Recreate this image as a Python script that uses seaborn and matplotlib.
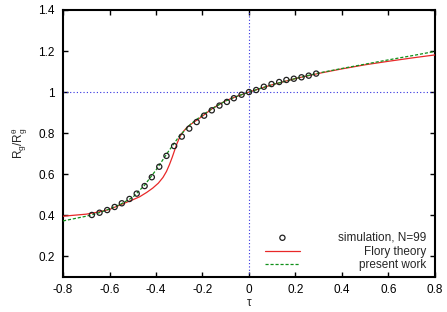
import numpy as np
import pandas as pd
import matplotlib
matplotlib.use('Agg')
import matplotlib.pyplot as plt
import seaborn as sns

# simulation points (N=99)
sim_tau = [-0.676, -0.643, -0.610, -0.578, -0.547, -0.514, -0.483, -0.449, -0.418, -0.386,
           -0.355, -0.322, -0.289, -0.257, -0.225, -0.193, -0.160, -0.127, -0.095, -0.065,
           -0.032, 0.000, 0.031, 0.064, 0.097, 0.130, 0.161, 0.193, 0.226, 0.257, 0.289]
sim_ratio = [0.401, 0.412, 0.425, 0.440, 0.458, 0.479, 0.505, 0.542, 0.585, 0.636,
             0.689, 0.737, 0.783, 0.822, 0.854, 0.885, 0.911, 0.934, 0.952, 0.970,
             0.987, 1.000, 1.010, 1.026, 1.039, 1.049, 1.059, 1.065, 1.072, 1.080, 1.090]

# Flory theory
flory_tau = [-0.8, -0.7, -0.65, -0.6, -0.55, -0.5, -0.47, -0.44, -0.414, -0.39, -0.37, -0.355,
             -0.342, -0.33, -0.32, -0.31, -0.30, -0.29, -0.28, -0.27, -0.25, -0.213, -0.156,
             -0.1, -0.05, 0.0, 0.1, 0.2, 0.3, 0.4, 0.5, 0.6, 0.7, 0.8]
flory_ratio = [0.395, 0.405, 0.415, 0.428, 0.452, 0.475, 0.490, 0.511, 0.532, 0.556, 0.584, 0.613,
               0.647, 0.683, 0.716, 0.748, 0.775, 0.796, 0.811, 0.824, 0.843, 0.872, 0.921,
               0.958, 0.980, 1.000, 1.036, 1.066, 1.091, 1.113, 1.133, 1.150, 1.166, 1.181]

# present work
pw_tau = [-0.8, -0.7, -0.65, -0.6, -0.55, -0.5, -0.45, -0.4, -0.35, -0.3, -0.25, -0.2,
          -0.15, -0.1, -0.05, 0.0, 0.1, 0.2, 0.3, 0.4, 0.5, 0.6, 0.7, 0.8]
pw_ratio = [0.372, 0.395, 0.410, 0.430, 0.455, 0.487, 0.545, 0.620, 0.705, 0.785, 0.845, 0.888,
            0.925, 0.957, 0.980, 1.000, 1.036, 1.066, 1.093, 1.115, 1.136, 1.157, 1.177, 1.198]

sns.set_style('ticks')
plt.rcParams['font.family'] = ['Liberation Sans', 'DejaVu Sans']
plt.rcParams['mathtext.fontset'] = 'custom'
plt.rcParams['mathtext.rm'] = 'Liberation Sans'
plt.rcParams['mathtext.it'] = 'Liberation Sans'

fig = plt.figure(figsize=(4.47, 3.12), dpi=100)
ax = fig.add_axes([0.141, 0.113, 0.832, 0.855])

hl = ax.axhline(1.0, color='#3030e0', ls=(0, (1, 2)), lw=0.8, zorder=1)
vl = ax.axvline(0.0, color='#3030e0', ls=(0, (1, 2)), lw=0.8, zorder=1)
hl.set_snap(True)
vl.set_snap(True)

sim = pd.DataFrame({'tau': sim_tau, 'ratio': sim_ratio})
flory = pd.DataFrame({'tau': flory_tau, 'ratio': flory_ratio})
pw = pd.DataFrame({'tau': pw_tau, 'ratio': pw_ratio})

sns.scatterplot(data=sim, x='tau', y='ratio', ax=ax, marker='o', s=14,
                facecolor='none', edgecolor='#202020', linewidth=0.9,
                label='simulation, N=99', zorder=4)
sns.lineplot(data=flory, x='tau', y='ratio', ax=ax, color='#e82828', lw=0.9,
             sort=False, estimator=None, label='Flory theory', zorder=3)
sns.lineplot(data=pw, x='tau', y='ratio', ax=ax, color='#10901a', lw=0.9,
             dashes=False, sort=False, estimator=None, label='present work', zorder=3)
ax.lines[-1].set_linestyle((0, (2.5, 1.5)))

ax.set_xlim(-0.8, 0.8)
ax.set_ylim(0.1, 1.4)
xt = [-0.8, -0.6, -0.4, -0.2, 0, 0.2, 0.4, 0.6, 0.8]
yt = [0.2, 0.4, 0.6, 0.8, 1, 1.2, 1.4]
ax.set_xticks(xt)
ax.set_xticklabels(['-0.8', '-0.6', '-0.4', '-0.2', '0', '0.2', '0.4', '0.6', '0.8'])
ax.set_yticks(yt)
ax.set_yticklabels(['0.2', '0.4', '0.6', '0.8', '1', '1.2', '1.4'])
ax.tick_params(direction='in', length=3.5, width=1, top=True, right=True,
               labelsize=8.5, pad=6, colors='black')
ax.tick_params(axis='x', pad=5)
for sp in ax.spines.values():
    sp.set_linewidth(1.5)
    sp.set_color('black')

ax.set_xlabel('τ', fontsize=8.5, labelpad=1)
ax.set_ylabel(r'R$_\mathregular{g}$/R$_\mathregular{g}^\mathregular{θ}$', fontsize=8.5, labelpad=6)

leg = ax.legend(loc='lower right', bbox_to_anchor=(0.978, 0.02), frameon=False,
                fontsize=8.5, borderpad=0, borderaxespad=0, handlelength=2.9,
                handletextpad=3.3, labelspacing=0.15, markerfirst=True)

# right-align legend texts like gnuplot
fig.canvas.draw()
widths = [t.get_window_extent().width for t in leg.get_texts()]
mw = max(widths)
for t, w in zip(leg.get_texts(), widths):
    t.set_x(mw - w)

fig.savefig('out.png', dpi=100)
